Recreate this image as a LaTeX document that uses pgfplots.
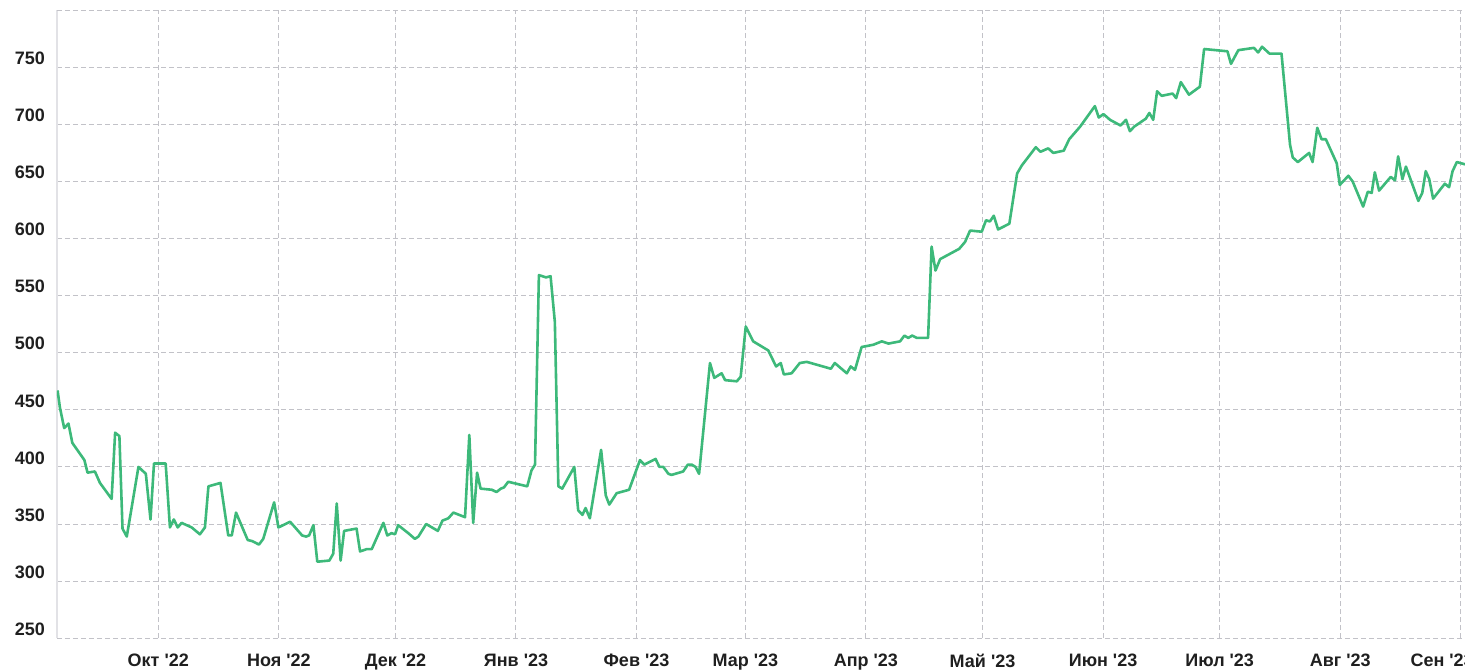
\documentclass[border=0pt]{standalone}
\usepackage{fontspec}
\setmainfont{Liberation Sans}
\usepackage{pgfplots}
\pgfplotsset{compat=1.18}
\definecolor{linegreen}{HTML}{3DB97A}
\definecolor{gridgray}{HTML}{C2C2C8}
\definecolor{axisgray}{HTML}{E2E2E6}

\begin{document}
\begin{tikzpicture}
\begin{axis}[
  scale only axis,
  width=704pt, height=314pt,
  xmin=3.95, xmax=366.1,
  ymin=250, ymax=800,
  axis x line*=bottom, axis y line*=left,
  x axis line style={draw=none},
  y axis line style={-, axisgray, line width=0.7pt},
  xtick={30,61,91,122,153,181,212,242,273,303,334},
  xticklabels={Окт \textquotesingle22, Ноя \textquotesingle22, Дек \textquotesingle22,
    Янв \textquotesingle23, Фев \textquotesingle23, Мар \textquotesingle23,
    Апр \textquotesingle23, Май \textquotesingle23, Июн \textquotesingle23,
    Июл \textquotesingle23, Авг \textquotesingle23},
  extra x ticks={365},
  extra x tick labels={Сен \textquotesingle23},
  extra x tick style={grid=major, xticklabel style={xshift=-9.3pt}},
  ytick={250,300,...,750},
  extra y ticks={800}, extra y tick labels={},
  extra y tick style={grid=major},
  grid=major,
  major grid style={gridgray, dash pattern=on 2.5pt off 1.5pt, line width=0.5pt},
  major tick length=0pt,
  tick style={draw=none},
  ticklabel style={font=\fontsize{9}{10}\selectfont\bfseries, text=black!88},
  /pgf/number format/assume math mode=true,
  yticklabel style={xshift=-2.5pt, yshift=4.5pt},
  xticklabel style={yshift=-4.2pt},
]
% daily price, x = days since 1 Sep 2022
\addplot[linegreen, line width=1.3pt, line join=round, mark=none] coordinates {
  (4.1,467) (4.7,452) (5.8,434) (6.9,438) (7.9,421) (11.0,406) (11.8,395) (13.7,396)
  (15.0,386) (18.0,372) (18.9,430) (20.0,427) (20.8,346) (21.9,339) (24.9,400) (26.8,394)
  (28.0,354) (28.9,403) (31.9,403) (33.0,347) (34.0,354) (35.0,347) (36.0,351) (38.6,347)
  (40.7,341) (42.0,347) (42.9,383) (46.0,386) (48.0,340) (48.9,340) (50.0,360) (53.0,336)
  (54.2,335) (55.9,332) (57.0,337) (59.8,369) (60.9,347) (63.9,352) (67.0,340) (68.0,339)
  (68.8,340) (69.9,349) (70.9,317) (74.0,318) (75.0,324) (75.9,368) (76.9,318) (77.8,344)
  (81.0,346) (81.9,326) (83.6,328) (84.9,328) (87.9,351) (88.9,340) (90.0,342) (90.9,341)
  (91.7,349) (94.3,342) (96.0,337) (96.9,339) (98.9,350) (101.9,344) (103.1,353) (104.6,355)
  (105.9,360) (108.9,356) (110.0,428) (111.0,351) (112.0,395) (112.9,381) (115.8,380) (117.0,378)
  (118.1,381) (118.9,382) (120.0,387) (124.9,383) (126.0,397) (126.9,402) (127.9,568) (129.7,566)
  (130.9,567) (132.0,527) (132.9,383) (133.9,381) (137.0,400) (138.0,362) (139.1,358) (139.9,364)
  (141.0,355) (143.9,415) (145.1,375) (146.0,367) (147.9,377) (151.1,380) (153.9,406) (155.0,402)
  (157.9,407) (158.9,400) (159.9,400) (161.2,394) (162.0,393) (165.0,396) (166.2,402) (167.2,402)
  (168.2,400) (169.1,394) (171.9,491) (173.0,478) (174.9,482) (175.8,476) (178.8,475) (179.8,479)
  (181.1,523) (183.0,510) (186.9,502) (188.9,488) (190.1,491) (190.9,481) (192.9,482) (195.0,491)
  (196.8,492) (203.0,486) (204.0,491) (207.1,482) (208.1,488) (209.2,485) (210.9,505) (213.9,507)
  (216.1,510) (217.8,508) (220.8,510) (221.9,515) (222.9,513) (223.9,515) (225.1,513) (228.0,513)
  (228.9,593) (229.9,572) (231.1,582) (236.0,591) (237.5,597) (238.8,607) (241.8,606) (242.9,616)
  (243.9,615) (244.9,620) (246.0,608) (248.9,613) (250.9,657) (252.1,664) (255.7,680) (256.9,676)
  (258.9,679) (260.2,675) (262.9,677) (264.3,687) (267.1,698) (270.9,716) (271.9,706) (273.1,709)
  (274.8,704) (277.5,699) (278.9,704) (279.9,694) (281.0,698) (284.0,705) (284.9,710) (285.9,704)
  (286.9,729) (288.1,725) (290.9,727) (291.8,723) (293.0,737) (295.1,726) (297.9,733) (299.0,766)
  (305.0,764) (305.9,753) (307.8,765) (311.8,767) (312.9,763) (313.9,768) (315.8,762) (318.9,762)
  (321.1,682) (321.8,671) (323.1,667) (326.0,675) (326.9,667) (328.1,697) (329.2,687) (330.3,687)
  (333.1,666) (333.9,647) (336.1,655) (337.2,650) (339.9,628) (341.1,641) (342.1,640) (342.9,658)
  (344.0,642) (347.0,654) (348.1,651) (348.9,672) (350.0,652) (350.9,663) (354.1,633) (355.1,640)
  (356.0,659) (356.9,652) (357.9,635) (360.9,648) (362.0,645) (362.9,659) (364.0,667) (366.1,665)
};
\end{axis}
\pgfresetboundingbox
\path[use as bounding box] ([xshift=-28.5pt, yshift=-15.4pt]current axis.south west)
  rectangle ([yshift=5.1pt]current axis.north east);
\end{tikzpicture}
\end{document}
